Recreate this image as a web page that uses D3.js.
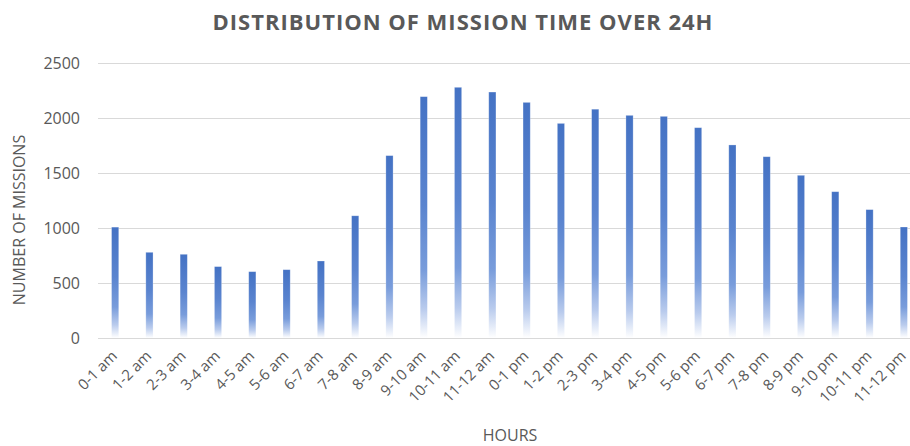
<!DOCTYPE html>
<html>
<head>
<meta charset="utf-8">
<script src="https://cdn.jsdelivr.net/npm/d3@7"></script>
<style>
  body { margin: 0; background: #fff; }
  svg { display: block; font-family: "Open Sans", sans-serif; }
  .tick text { fill: #595959; font-family: "Open Sans", sans-serif; }
  .title { fill: #595959; font-weight: bold; }
  .label { fill: #595959; }
</style>
</head>
<body>
<div id="chart"></div>
<script>
const width = 910;
const height = 446;

// data
const hours = ["0-1 am", "1-2 am", "2-3 am", "3-4 am", "4-5 am", "5-6 am", "6-7 am", "7-8 am",
  "8-9 am", "9-10 am", "10-11 am", "11-12 am", "0-1 pm", "1-2 pm", "2-3 pm", "3-4 pm",
  "4-5 pm", "5-6 pm", "6-7 pm", "7-8 pm", "8-9 pm", "9-10 pm", "10-11 pm", "11-12 pm"];
const missions = [1008, 779, 761, 649, 603, 621, 700, 1111,
  1658, 2194, 2279, 2236, 2142, 1951, 2080, 2024,
  2015, 1912, 1755, 1648, 1479, 1330, 1167, 1009];
const yTicks = [0, 500, 1000, 1500, 2000, 2500];

const svg = d3.select("#chart").append("svg")
    .attr("width", width)
    .attr("height", height);

const xScale = d3.scaleBand()
    .domain(hours)
    .range([98, 921])
    .paddingInner(0.79)
    .paddingOuter(0.395);

const yScale = d3.scaleLinear()
    .domain([0, 2500])
    .range([338, 63]);

const defs = svg.append("defs");
const grad = defs.append("linearGradient")
    .attr("id", "barfill")
    .attr("x1", 0).attr("y1", 0)
    .attr("x2", 0).attr("y2", 1);
grad.append("stop").attr("offset", "0%").attr("stop-color", "#4472c4");
grad.append("stop").attr("offset", "45%").attr("stop-color", "#5a84cf");
grad.append("stop").attr("offset", "72%").attr("stop-color", "#789cdb");
grad.append("stop").attr("offset", "88%").attr("stop-color", "#b9cbed");
grad.append("stop").attr("offset", "100%").attr("stop-color", "#ffffff");

// gridlines + y labels
const yaxis = d3.axisLeft(yScale)
    .tickValues(yTicks)
    .tickFormat(d3.format("d"))
    .tickSize(-(921 - 98))
    .tickPadding(18);

const gy = svg.append("g")
    .attr("transform", "translate(98,0)")
    .call(yaxis)
    .attr("font-family", null)
    .attr("font-size", null);
gy.select(".domain").remove();
gy.selectAll(".tick line")
    .attr("stroke", "#d9d9d9")
    .attr("stroke-width", 1);
gy.selectAll(".tick text")
    .style("font-size", "16px");

// bars
svg.append("g")
  .selectAll("rect")
  .data(missions)
  .enter()
  .append("rect")
    .attr("x", (d, i) => xScale(hours[i]))
    .attr("y", d => yScale(d))
    .attr("width", xScale.bandwidth())
    .attr("height", d => yScale(0) - yScale(d))
    .attr("fill", "url(#barfill)")
    .attr("stroke", "#ffffff")
    .attr("stroke-opacity", 0.35)
    .attr("stroke-width", 0.75);

// x axis labels
const xaxis = d3.axisBottom(xScale).tickSize(0).tickPadding(0);
const gx = svg.append("g")
    .attr("transform", "translate(0,338)")
    .call(xaxis)
    .attr("font-family", null)
    .attr("font-size", null);
gx.select(".domain")
    .attr("stroke", "#d9d9d9");
gx.selectAll(".tick text")
    .style("font-size", "15px")
    .attr("text-anchor", "end")
    .attr("dy", null)
    .attr("y", 0)
    .attr("transform", "translate(3,19) rotate(-45)");

svg.append("text")
    .attr("class", "title")
    .attr("x", 463)
    .attr("y", 30)
    .attr("text-anchor", "middle")
    .style("font-size", "22px")
    .style("letter-spacing", "1px")
    .text("DISTRIBUTION OF MISSION TIME OVER 24H");

svg.append("text")
    .attr("class", "label")
    .attr("x", -220)
    .attr("y", 25)
    .attr("transform", "rotate(-90)")
    .attr("text-anchor", "middle")
    .style("font-size", "16px")
    .text("NUMBER OF MISSIONS");

svg.append("text")
    .attr("class", "label")
    .attr("x", 510)
    .attr("y", 441)
    .attr("text-anchor", "middle")
    .style("font-size", "16px")
    .text("HOURS");
</script>
</body>
</html>
